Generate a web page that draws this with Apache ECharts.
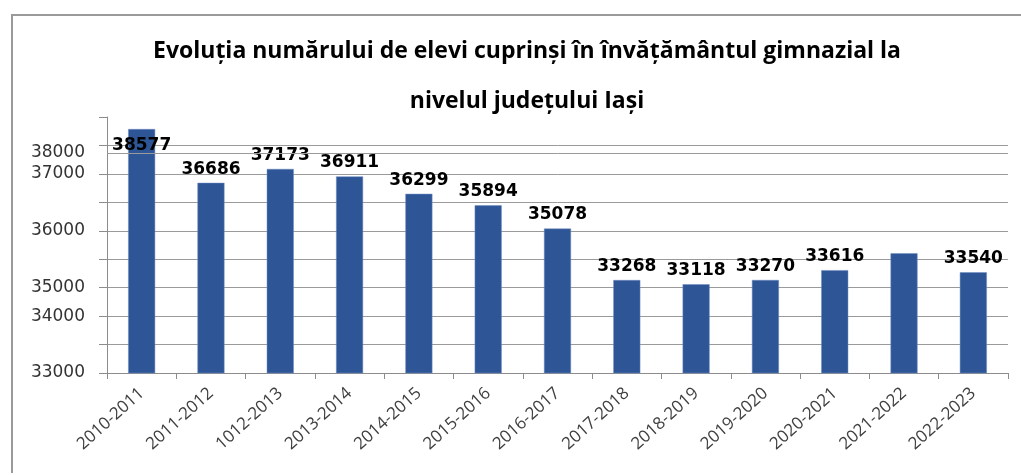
<!DOCTYPE html>
<html>
<head>
<meta charset="utf-8">
<script src="https://cdn.jsdelivr.net/npm/echarts@6/dist/echarts.min.js"></script>
<style>
  html, body { margin: 0; padding: 0; background: #fff; }
  #chart { width: 1021px; height: 475px; }
  #frame { position: absolute; left: 11px; top: 14px; right: 0; bottom: 2px;
           border-left: 2px solid #9a9a9a; border-top: 2px solid #9a9a9a; pointer-events: none; }
</style>
</head>
<body>
<div id="chart"></div>
<div id="frame"></div>
<script>
const years = ['2010-2011', '2011-2012', '1012-2013', '2013-2014', '2014-2015', '2015-2016', '2016-2017',
  '2017-2018', '2018-2019', '2019-2020', '2020-2021', '2021-2022', '2022-2023']
const pupils = [38577, 36686, 37173, 36911, 36299, 35894, 35078, 33268, 33118, 33270, 33616, 34210, 33540]

// tick labels as printed in the picture (they do not sit on their own values)
const tickValues = [30000, 32000, 33000, 35000, 37000]
const tickTexts = ['33000', '34000', '35000', '36000', '37000']
const extraLineValue = 37735
const extraLineText = '38000'

const chart = echarts.init(document.getElementById('chart'))

let data = pupils.map((v, i) => {
  let item = { value: v }
  if (i === 0) item.label = { position: 'insideTop', distance: 8 }
  if (i === 11) item.label = { show: false }
  return item
})

let gridColors = ['#9a9a9a', '#9a9a9a', '#9a9a9a', '#9a9a9a', '#9a9a9a',
  '#9a9a9a', '#9a9a9a', '#9a9a9a', '#9a9a9a', 'rgba(0,0,0,0)']

let option = {
  backgroundColor: '#fff',
  animation: false,
  title: {
    text: 'Evoluția numărului de elevi cuprinși în învățământul gimnazial la\nnivelul județului Iași',
    left: 522,
    textAlign: 'center',
    top: 21,
    textStyle: {
      fontFamily: 'Open Sans',
      fontWeight: 'bold',
      fontSize: 23,
      lineHeight: 50,
      color: '#000'
    }
  },
  grid: { left: 107, right: 13, top: 117, bottom: 102 },
  xAxis: {
    type: 'category',
    data: years,
    axisLine: { lineStyle: { color: '#8c8c8c', width: 1 } },
    axisTick: { show: true, length: 6, lineStyle: { color: '#8c8c8c' } },
    axisLabel: {
      interval: 0,
      rotate: 42,
      margin: 18,
      color: '#404040',
      fontFamily: 'Open Sans',
      fontSize: 17
    }
  },
  yAxis: {
    type: 'value',
    min: 30000,
    max: 39000,
    interval: 1000,
    axisLine: { show: true, lineStyle: { color: '#8c8c8c' } },
    axisTick: { show: true, length: 8, lineStyle: { color: '#8c8c8c' } },
    splitLine: { lineStyle: { color: gridColors, width: 1 } },
    axisLabel: {
      margin: 22,
      color: '#333',
      fontFamily: 'DejaVu Sans',
      fontSize: 17,
      formatter: function (v) {
        let k = tickValues.indexOf(v)
        return k >= 0 ? tickTexts[k] : ''
      }
    }
  },
  series: [
    {
      type: 'bar',
      data: data,
      barWidth: 27,
      itemStyle: { color: '#2E5596', borderColor: '#6f8dc4', borderWidth: 0.5 },
      label: {
        show: true,
        position: 'top',
        distance: 5,
        color: '#000',
        fontFamily: 'DejaVu Sans',
        fontWeight: 'bold',
        fontSize: 17
      },
      markLine: {
        silent: true,
        symbol: 'none',
        lineStyle: { color: '#9a9a9a', type: 'solid', width: 1 },
        label: {
          position: 'start',
          formatter: extraLineText,
          color: '#333',
          fontFamily: 'DejaVu Sans',
          fontSize: 17,
          distance: 22
        },
        data: [{ yAxis: extraLineValue }]
      }
    }
  ]
}

chart.setOption(option)
</script>
</body>
</html>
